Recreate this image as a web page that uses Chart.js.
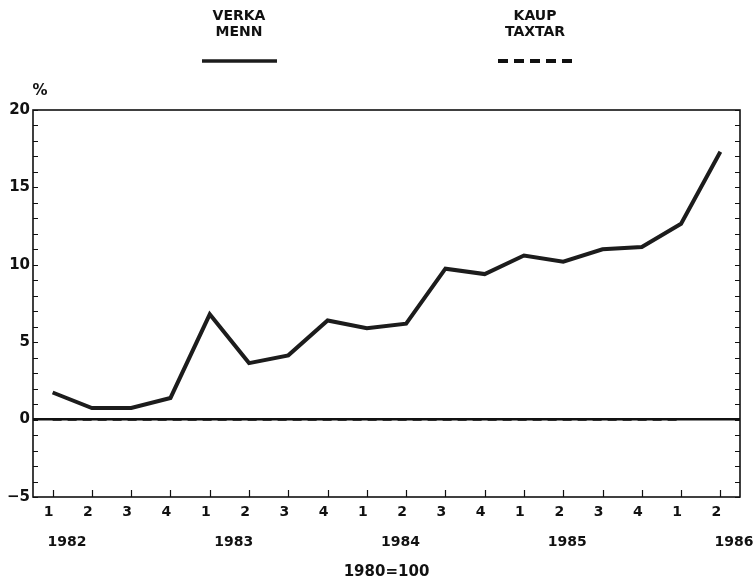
<!DOCTYPE html>
<html>
<head>
<meta charset="utf-8">
<script src="https://cdn.jsdelivr.net/npm/chart.js@4.4.1/dist/chart.umd.min.js"></script>
<style>
  html, body { margin: 0; padding: 0; background: #ffffff; }
  #wrap { width: 756px; height: 581px; }
</style>
</head>
<body>
<div id="wrap"><canvas id="c" width="756" height="581"></canvas></div>
<script>
// ---- data ----
const quarterLabels = ['1','2','3','4','1','2','3','4','1','2','3','4','1','2','3','4','1','2'];
const yearLabels = [1982, 1983, 1984, 1985, 1986];
const verkamenn = [1.75, 0.75, 0.75, 1.4, 6.8, 3.65, 4.15, 6.4, 5.9, 6.2, 9.75, 9.4, 10.6, 10.2, 11.0, 11.15, 12.65, 17.3];
const kauptaxtar = [0, 0, 0, 0, 0, 0, 0, 0, 0, 0, 0, 0, 0, 0, 0, 0, 0, null];
const yTickValues = [-5, 0, 5, 10, 15, 20];
const seriesNames = [['VERKA', 'MENN'], ['KAUP', 'TAXTAR']];
const unitLabel = '%';
const baseLabel = '1980=100';

const FONT = '"DejaVu Sans", Verdana, sans-serif';
const INK = '#111111';

const framePlugin = {
  id: 'framePlugin',
  afterDatasetsDraw(chart) {
    const { ctx, chartArea: a, scales } = chart;
    ctx.save();
    ctx.strokeStyle = INK;
    ctx.lineWidth = 1.6;
    ctx.strokeRect(a.left, a.top, a.right - a.left, a.bottom - a.top);
    ctx.lineWidth = 1.2;
    // inward minor ticks on left and right axes, one per unit
    const ys = scales.y;
    for (let v = ys.min; v <= ys.max; v += 1) {
      const py = Math.round(ys.getPixelForValue(v)) + 0.5;
      ctx.beginPath();
      ctx.moveTo(a.left, py); ctx.lineTo(a.left + 5, py);
      ctx.moveTo(a.right, py); ctx.lineTo(a.right - 5, py);
      ctx.stroke();
    }
    // inward ticks on the bottom axis, one per quarter
    const xs = scales.x;
    for (let i = 0; i < quarterLabels.length; i++) {
      const px = Math.round(xs.getPixelForValue(i)) + 0.5;
      ctx.beginPath();
      ctx.moveTo(px, a.bottom); ctx.lineTo(px, a.bottom - 7);
      ctx.stroke();
    }
    ctx.restore();
  },
  afterDraw(chart) {
    const { ctx, chartArea: a } = chart;
    ctx.save();
    ctx.fillStyle = INK;
    ctx.textAlign = 'center';
    ctx.textBaseline = 'middle';
    // unit label above the y axis
    ctx.font = 'bold 15px ' + FONT;
    ctx.fillText(unitLabel, a.left + 7, a.top - 19);
    // legend
    const items = [
      { cx: 239, dash: [] , width: 3.5 },
      { cx: 535, dash: [10, 6], width: 4 }
    ];
    ctx.font = 'bold 14px ' + FONT;
    items.forEach((it, k) => {
      const ds = chart.data.datasets[k];
      ctx.fillText(seriesNames[k][0], it.cx, 16);
      ctx.fillText(seriesNames[k][1], it.cx, 32);
      ctx.beginPath();
      ctx.setLineDash(it.dash);
      ctx.lineWidth = it.width;
      ctx.strokeStyle = ds.borderColor;
      ctx.moveTo(it.cx - 37, 61);
      ctx.lineTo(it.cx + 38, 61);
      ctx.stroke();
    });
    ctx.setLineDash([]);
    ctx.restore();
  }
};

// position of the year labels along the bottom (evenly spaced, independent of quarters)
const yearMin = 1981.796, yearMax = 1986.036;

new Chart(document.getElementById('c'), {
  type: 'line',
  data: {
    labels: quarterLabels,
    datasets: [
      {
        label: seriesNames[0].join(' '),
        data: verkamenn,
        borderColor: '#1c1c1c',
        borderWidth: 4,
        pointRadius: 0,
        tension: 0,
        fill: false,
        borderJoinStyle: 'miter'
      },
      {
        label: seriesNames[1].join(' '),
        data: kauptaxtar,
        borderColor: '#111111',
        borderWidth: 2.5,
        borderDash: [9, 6],
        pointRadius: 0,
        tension: 0,
        fill: false,
        spanGaps: false
      }
    ]
  },
  options: {
    responsive: false,
    devicePixelRatio: 1,
    animation: false,
    events: [],
    layout: { padding: { top: 110, right: 16, left: 0, bottom: 0 } },
    plugins: {
      legend: { display: false },
      tooltip: { enabled: false },
      title: { display: false }
    },
    scales: {
      x: {
        type: 'category',
        position: 'bottom',
        offset: true,
        weight: 0,
        grid: { display: false, drawTicks: false },
        border: { display: false },
        ticks: {
          color: INK,
          font: { family: FONT, size: 14, weight: 'bold' },
          padding: 7,
          labelOffset: -4,
          maxRotation: 0,
          autoSkip: false
        },
        afterFit(s) { s.height = 30; s.paddingLeft = 0; s.paddingRight = 0; }
      },
      x2: {
        type: 'linear',
        position: 'bottom',
        weight: 1,
        min: yearMin,
        max: yearMax,
        grid: { display: false, drawTicks: false },
        border: { display: false },
        afterBuildTicks(s) { s.ticks = yearLabels.map(v => ({ value: v })); },
        ticks: {
          color: INK,
          font: { family: FONT, size: 14, weight: 'bold' },
          padding: 7,
          maxRotation: 0,
          autoSkip: false,
          callback: v => String(v)
        },
        title: {
          display: true,
          text: baseLabel,
          color: INK,
          font: { family: FONT, size: 15, weight: 'bold' },
          padding: { top: 0, bottom: 0 }
        },
        afterFit(s) { s.height = 54; s.paddingLeft = 0; s.paddingRight = 0; }
      },
      y: {
        type: 'linear',
        position: 'left',
        min: -5,
        max: 20,
        afterBuildTicks(s) { s.ticks = yTickValues.map(v => ({ value: v })); },
        grid: {
          drawTicks: false,
          color: c => (c.tick && c.tick.value === 0 ? '#111111' : 'rgba(0,0,0,0)'),
          lineWidth: c => (c.tick && c.tick.value === 0 ? 2.5 : 0)
        },
        border: { display: false },
        ticks: {
          color: INK,
          font: { family: FONT, size: 15, weight: 'bold' },
          padding: 3,
          callback: v => (v < 0 ? '\u2212' + Math.abs(v) : String(v))
        },
        afterFit(s) { s.width = 33; s.paddingTop = 0; s.paddingBottom = 0; }
      }
    }
  },
  plugins: [framePlugin]
});
</script>
</body>
</html>
